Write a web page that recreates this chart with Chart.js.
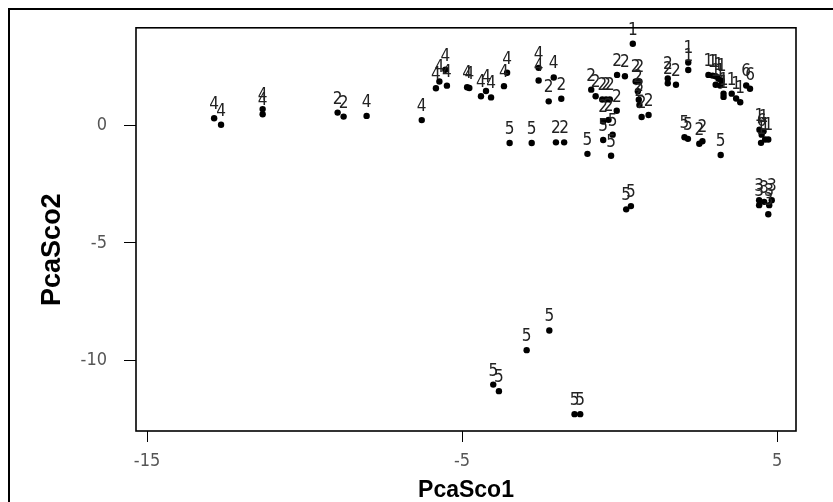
<!DOCTYPE html>
<html>
<head>
<meta charset="utf-8">
<script src="https://cdn.jsdelivr.net/npm/chart.js@4"></script>
<style>
  html, body { margin: 0; padding: 0; background: #fff; }
  #wrap { position: relative; width: 833px; height: 502px; overflow: hidden; }
  #frame { position: absolute; left: 8px; top: 8px; width: 900px; height: 600px;
           border-left: 2px solid #000; border-top: 2px solid #000; pointer-events: none; }
</style>
</head>
<body>
<div id="wrap">
  <canvas id="pcaChart" width="833" height="502"></canvas>
  <div id="frame"></div>
</div>
<script>
// ── Data: PCA scores, one label (group) per point ──
const pcaSco1 = [
  -12.87, -12.65, -11.33, -11.33, -8.95, -8.76, -8.03, -6.28,
  -5.83, -5.72, -5.53, -5.48, -4.84, -4.77, -4.40, -4.24, -4.08,
  -3.67, -3.57, -2.57, -2.57, -2.09, -2.25, -1.85,
  -3.49, -2.79, -2.02, -1.76, -1.02,
  -0.90, -0.76, -0.55, -0.43, -0.31, -0.09, -0.52, -0.35,
  -0.52, -0.22, -0.27, -0.08, 0.17, 0.42,
  0.51, 0.63, 0.58, 0.61, 0.63, 0.70, 0.92, 0.21, 0.36,
  1.53, 1.53, 1.79, 2.18, 2.18,
  2.82, 2.95, 3.05, 3.14, 3.24, 3.05, 3.19, 3.30, 3.30, 3.56, 3.70, 3.83,
  4.02, 4.14, 2.06, 2.17, 2.53, 2.63, 3.21,
  4.44, 4.51, 4.49, 4.62, 4.72, 4.57,
  4.43, 4.43, 4.59, 4.75, 4.83, 4.72,
  -2.23, -2.95, -4.01, -3.83, -1.43, -1.25
];
const pcaSco2 = [
  0.32, 0.04, 0.49, 0.71, 0.56, 0.39, 0.42, 0.24,
  1.60, 1.89, 2.39, 1.71, 1.64, 1.61, 1.26, 1.48, 1.21,
  1.69, 2.26, 2.47, 1.93, 2.06, 1.04, 1.15,
  -0.74, -0.74, -0.71, -0.71, -1.20,
  1.54, 1.26, 1.12, 1.12, 1.12, 0.64, 0.18, 0.25,
  -0.61, -0.38, -1.28, 2.17, 2.11, 3.50,
  1.89, 1.89, 1.47, 1.11, 0.88, 0.37, 0.46, -3.57, -3.43,
  2.02, 1.81, 1.75, 2.70, 2.38,
  2.17, 2.14, 2.11, 2.00, 1.93, 1.75, 1.72, 1.37, 1.23, 1.37, 1.16, 1.00,
  1.72, 1.58, -0.49, -0.56, -0.77, -0.66, -1.25,
  -0.17, -0.38, -0.73, -0.59, -0.59, -0.24,
  -3.39, -3.18, -3.25, -3.39, -3.18, -3.78,
  -8.74, -9.58, -11.05, -11.33, -12.31, -12.31
];
const groupLabels = [
  "4", "4", "4", "4", "2", "2", "4", "4",
  "4", "4", "4", "4", "4", "4", "4", "4", "4",
  "4", "4", "4", "4", "4", "2", "2",
  "5", "5", "2", "2", "5",
  "2", "2", "2", "2", "2", "2", "2", "2",
  "5", "5", "5", "2", "2", "1",
  "2", "2", "2", "2", "2", "2", "2", "5", "5",
  "2", "2", "2", "1", "1",
  "1", "1", "1", "1", "1", "1", "1", "1", "1", "1", "1", "1",
  "6", "6", "5", "5", "2", "2", "5",
  "1", "6", "1", "1", "1", "1",
  "3", "3", "3", "3", "3", "3",
  "5", "5", "5", "5", "5", "5"
];

const xTicks = [-15, -5, 5];
const yTicks = [-10, -5, 0];

const TICK_FONT = { family: "'Liberation Sans Narrow', 'DejaVu Sans Condensed', 'Liberation Sans', sans-serif", size: 18 };
const TITLE_FONT = { family: "'Liberation Sans', Arial, sans-serif", weight: "bold", lineHeight: 1 };

// ── Plugins ──
const boxPlugin = {
  id: "plotBox",
  afterDraw(chart) {
    const { ctx, chartArea: a } = chart;
    ctx.save();
    ctx.strokeStyle = "#000";
    ctx.lineWidth = 1.6;
    ctx.strokeRect(a.left, a.top, a.right - a.left, a.bottom - a.top);
    ctx.restore();
  }
};

const pointLabelPlugin = {
  id: "pointLabels",
  afterDatasetsDraw(chart) {
    const { ctx } = chart;
    const meta = chart.getDatasetMeta(0);
    ctx.save();
    ctx.font = "17px 'Liberation Sans Narrow', 'DejaVu Sans Condensed', 'Liberation Sans', sans-serif";
    ctx.fillStyle = "#222";
    ctx.textAlign = "center";
    ctx.textBaseline = "bottom";
    meta.data.forEach((pt, i) => {
      ctx.fillText(groupLabels[i], pt.x, pt.y - 5);
    });
    ctx.restore();
  }
};

const points = pcaSco1.map((x, i) => ({ x: x, y: pcaSco2[i] }));

new Chart(document.getElementById("pcaChart").getContext("2d"), {
  type: "scatter",
  data: {
    datasets: [{
      data: points,
      backgroundColor: "#000",
      borderWidth: 0,
      pointRadius: 3.2,
      pointHoverRadius: 3.2
    }]
  },
  options: {
    responsive: false,
    animation: false,
    layout: { padding: { top: 21, right: 37, left: 0, bottom: 0 } },
    plugins: { legend: { display: false }, tooltip: { enabled: false } },
    scales: {
      x: {
        type: "linear",
        min: -15.35,
        max: 5.6,
        afterBuildTicks: axis => { axis.ticks = xTicks.map(v => ({ value: v })); },
        afterFit: axis => { axis.height = 71; },
        border: { display: false },
        grid: { display: true, drawOnChartArea: false, drawTicks: true, tickLength: 11, color: "#000", lineWidth: 1 },
        ticks: { font: TICK_FONT, color: "#555", padding: 9, maxRotation: 0, autoSkip: false },
        title: { display: true, text: "PcaSco1", color: "#000", font: { ...TITLE_FONT, size: 23 }, padding: { top: 0, bottom: 0 } }
      },
      y: {
        type: "linear",
        min: -13.03,
        max: 4.18,
        afterBuildTicks: axis => { axis.ticks = yTicks.map(v => ({ value: v })); },
        afterFit: axis => { axis.width = 136; },
        border: { display: false },
        grid: { display: true, drawOnChartArea: false, drawTicks: true, tickLength: 12, color: "#000", lineWidth: 1 },
        ticks: { font: TICK_FONT, color: "#555", padding: 17, autoSkip: false },
        // trailing spaces push the rotated title a little below the plot centre, as in the original
        title: { display: true, text: "PcaSco2\u2003\u2002", color: "#000", font: { ...TITLE_FONT, size: 27 }, padding: { top: 39, bottom: 0 } }
      }
    }
  },
  plugins: [boxPlugin, pointLabelPlugin]
});
</script>
</body>
</html>
